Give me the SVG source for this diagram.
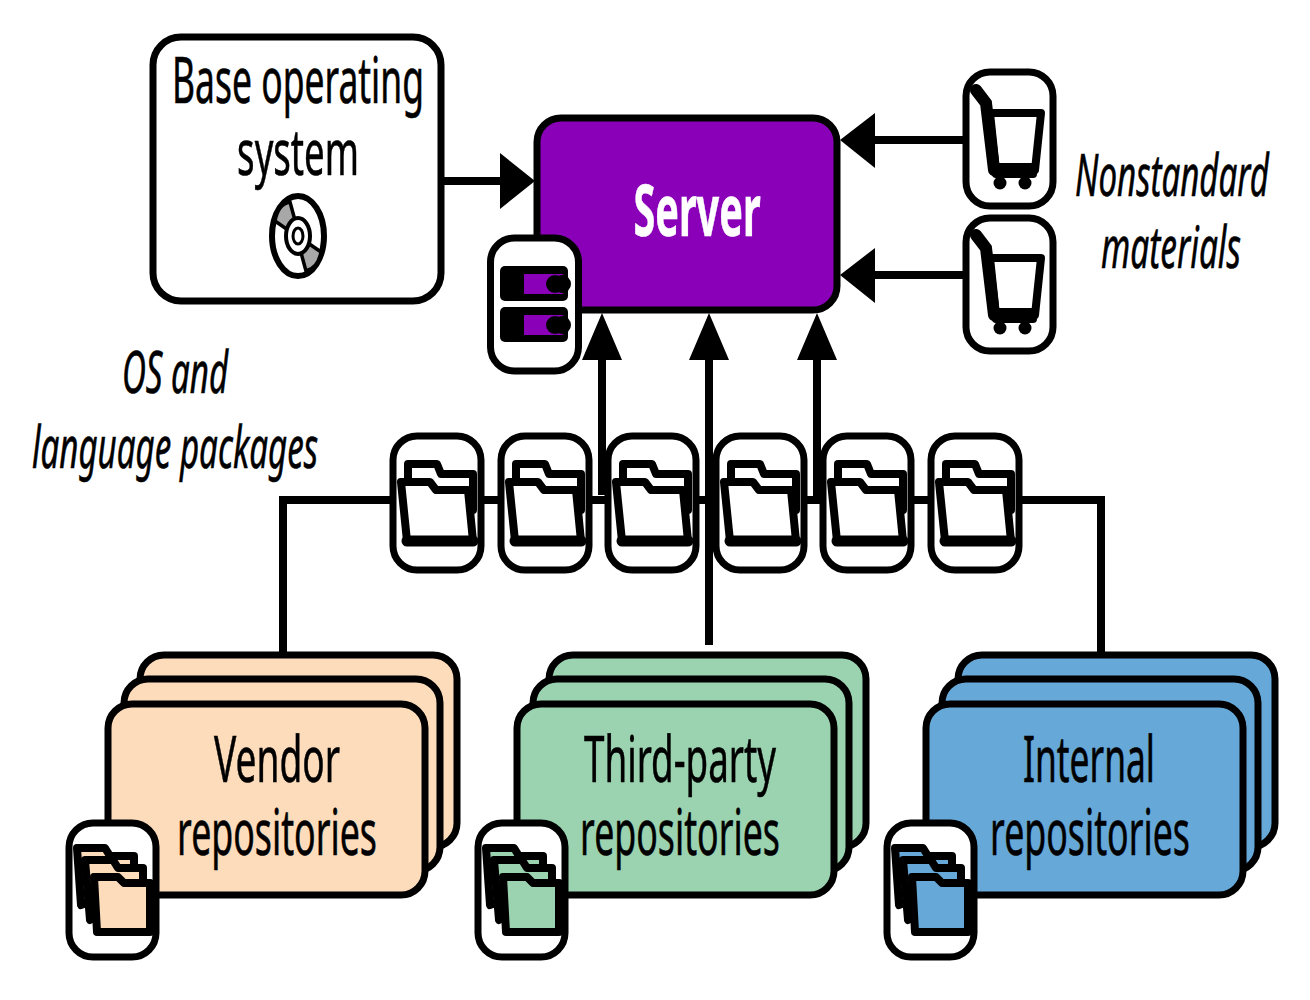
<svg xmlns="http://www.w3.org/2000/svg" width="1310" height="1000" viewBox="0 0 1310 1000">
<style>
.t{font-family:"Noto Sans","Open Sans",sans-serif;font-size:63px;fill:#000;text-anchor:middle;stroke:#000;stroke-width:.6}
.i{font-style:italic;font-size:58px}
.c{fill:none;stroke:#000;stroke-width:8}
.b{fill:#fff;stroke:#000;stroke-width:7}
.r{stroke:#000;stroke-width:7}
.h{fill:#000;stroke:none}
.ic{stroke:#000;stroke-width:8;stroke-linejoin:round;stroke-linecap:round}
</style>
<defs>
<g id="folder"><path class="ic" fill="#fff" d="M408 485V464H437L441 474H473V510H440Z"/><path class="ic" fill="#fff" d="M401 482H430L436 490H468L473 541H407Z"/><path d="M407 541H473" stroke="#000" stroke-width="11" stroke-linecap="round"/></g>
<g id="cart"><path class="ic" fill="#fff" d="M990 113H1041L1035 170H996Z"/><path d="M976 90L986 103L994 170" fill="none" stroke="#000" stroke-width="12" stroke-linecap="round"/><rect x="992" y="163" width="45" height="15" rx="4"/><circle cx="1000" cy="183" r="6.500"/><circle cx="1025" cy="183" r="6.500"/></g>
<g id="stack"><path class="ic" d="M81 905L77 848H105L110 856H134V885Z"/><path class="ic" d="M90 920L85 860H113L118 868H143V895Z"/><path class="ic" d="M97 932L94 877H118L124 883H150V932Z"/></g>
</defs>

<g id="connectors">
<path class="c" d="M443 181H505M964 140H870M964 275H870M283 652V500H1101V652M602 495V355M709 645V355M817 503V355"/>
<path class="h" d="M535 181L500 153V209ZM840 140L875 113V168ZM840 275L875 248V303ZM602 313L582 360H622ZM709 313L689 360H729ZM817 313L797 360H837Z"/>
</g>

<g id="base-os">
<rect class="b" x="153" y="37" width="288" height="264" rx="28"/>
<text class="t" transform="translate(298 103) scale(.6 1)" textLength="420" lengthAdjust="spacingAndGlyphs">Base operating</text>
<text class="t" transform="translate(298 175) scale(.6 1)" textLength="203" lengthAdjust="spacingAndGlyphs">system</text>
<ellipse cx="298" cy="236" rx="26" ry="40" fill="#fff" stroke="#000" stroke-width="6"/>
<path d="M275 221Q278 204 290 202L296 224L288 230ZM321 252Q318 268 306 271L300 249L308 243Z" fill="#a8a8a8" stroke="#000" stroke-width="3.500" stroke-linejoin="round"/>
<ellipse cx="298" cy="236" rx="12" ry="18" fill="#fff" stroke="#000" stroke-width="4"/>
<ellipse cx="298" cy="236" rx="5" ry="8" fill="#fff" stroke="#000" stroke-width="3"/>
</g>

<g id="server">
<rect x="537" y="118" width="300" height="192" rx="24" fill="#8a00b8" stroke="#000" stroke-width="7"/>
<text class="t" transform="translate(697 236) scale(.6 1)" style="fill:#fff;stroke:#fff;font-weight:700;font-size:71px" textLength="212" lengthAdjust="spacingAndGlyphs">Server</text>
<rect class="b" x="490.500" y="238" width="88" height="133" rx="24"/>
<rect x="500" y="266" width="68" height="35" rx="5"/>
<rect x="500" y="307" width="68" height="35" rx="5"/>
<rect x="524" y="274" width="39" height="20" fill="#8a00b8"/>
<rect x="524" y="315" width="39" height="20" fill="#8a00b8"/>
<circle cx="555" cy="284" r="9"/><circle cx="562" cy="284" r="9"/><circle cx="555" cy="325" r="9"/><circle cx="562" cy="325" r="9"/>
</g>

<g id="nonstandard-1"><rect class="b" x="966" y="72" width="87" height="134" rx="24"/><use href="#cart"/></g>
<g id="nonstandard-2"><rect class="b" x="966" y="218" width="87" height="133" rx="24"/><use href="#cart" y="145"/></g>
<g id="nonstandard-label">
<text class="t i" transform="translate(1172 196) scale(.6 1)" textLength="323" lengthAdjust="spacingAndGlyphs">Nonstandard</text>
<text class="t i" transform="translate(1171 268) scale(.6 1)" textLength="233" lengthAdjust="spacingAndGlyphs">materials</text>
</g>
<g id="os-label">
<text class="t i" transform="translate(175 393) scale(.6 1)" textLength="177" lengthAdjust="spacingAndGlyphs">OS and</text>
<text class="t i" transform="translate(175 468) scale(.6 1)" textLength="477" lengthAdjust="spacingAndGlyphs">language packages</text>
</g>

<g id="pkg-1"><rect class="b" x="393" y="436" width="88" height="134" rx="24"/><use href="#folder"/></g>
<g id="pkg-2"><rect class="b" x="501" y="436" width="88" height="134" rx="24"/><use href="#folder" x="108"/></g>
<g id="pkg-3"><rect class="b" x="608" y="436" width="88" height="134" rx="24"/><use href="#folder" x="215"/></g>
<g id="pkg-4"><rect class="b" x="716" y="436" width="88" height="134" rx="24"/><use href="#folder" x="323"/></g>
<g id="pkg-5"><rect class="b" x="823" y="436" width="88" height="134" rx="24"/><use href="#folder" x="430"/></g>
<g id="pkg-6"><rect class="b" x="931" y="436" width="88" height="134" rx="24"/><use href="#folder" x="538"/></g>

<g id="vendor" fill="#fddcbc">
<rect class="r" x="140" y="655" width="317" height="192" rx="24"/>
<rect class="r" x="124" y="679" width="316" height="192" rx="24"/>
<rect class="r" x="108" y="704" width="317" height="191" rx="24"/>
<text class="t" transform="translate(277 782) scale(.6 1)" textLength="210" lengthAdjust="spacingAndGlyphs">Vendor</text>
<text class="t" transform="translate(277 855) scale(.6 1)" textLength="333" lengthAdjust="spacingAndGlyphs">repositories</text>
<rect class="b" x="69" y="823" width="87" height="134" rx="24"/>
<use href="#stack"/>
</g>
<g id="third-party" fill="#9bd3b1">
<rect class="r" x="549" y="655" width="317" height="192" rx="24"/>
<rect class="r" x="533" y="679" width="316" height="192" rx="24"/>
<rect class="r" x="517" y="704" width="317" height="191" rx="24"/>
<text class="t" transform="translate(680 782) scale(.6 1)" textLength="320" lengthAdjust="spacingAndGlyphs">Third-party</text>
<text class="t" transform="translate(680 855) scale(.6 1)" textLength="333" lengthAdjust="spacingAndGlyphs">repositories</text>
<rect class="b" x="478" y="823" width="87" height="134" rx="24"/>
<use href="#stack" x="409"/>
</g>
<g id="internal" fill="#66a8d8">
<rect class="r" x="958" y="655" width="317" height="192" rx="24"/>
<rect class="r" x="942" y="679" width="316" height="192" rx="24"/>
<rect class="r" x="926" y="704" width="317" height="191" rx="24"/>
<text class="t" transform="translate(1089 782) scale(.6 1)" textLength="220" lengthAdjust="spacingAndGlyphs">Internal</text>
<text class="t" transform="translate(1090 855) scale(.6 1)" textLength="333" lengthAdjust="spacingAndGlyphs">repositories</text>
<rect class="b" x="887" y="823" width="87" height="134" rx="24"/>
<use href="#stack" x="818"/>
</g>
</svg>
